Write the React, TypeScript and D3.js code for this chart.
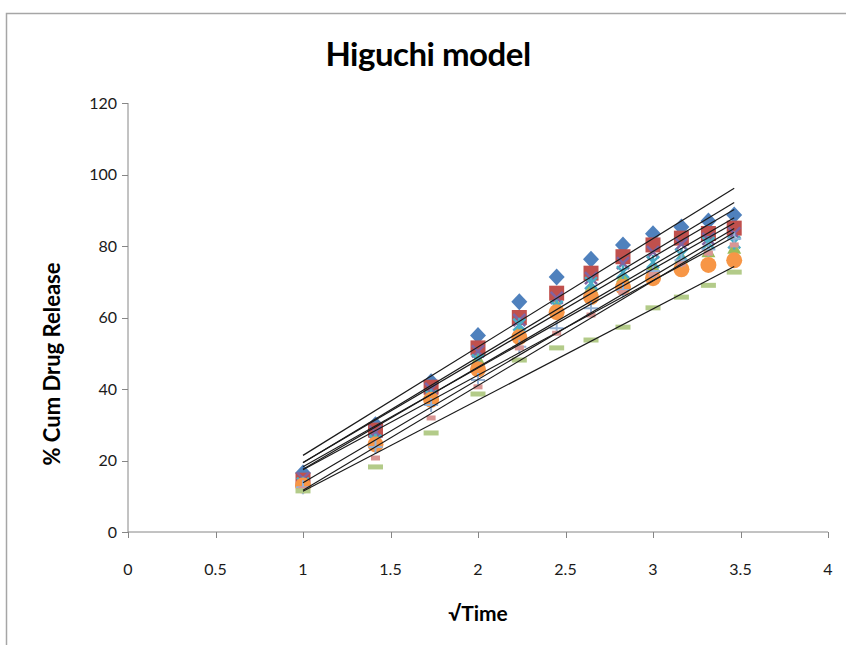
import { useEffect, useRef } from 'react';
import * as d3 from 'd3';

// time points (h); x axis is sqrt(time)
const times = [1, 2, 3, 4, 5, 6, 7, 8, 9, 10, 11, 12];

const f1 = [16.5, 30, 42, 55, 64.4, 71.3, 76.3, 80.3, 83.4, 85.3, 87, 88.7];
const f2 = [14.5, 28.5, 40.5, 51.5, 60, 66.8, 72.4, 77, 80.3, 82.2, 83.5, 85];
const f3 = [13.5, 26, 38.5, 48.5, 56.5, 63.5, 68.5, 71.5, 74.5, 77, 78.5, 79.5];
const f4 = [15, 28, 40, 50.5, 59.3, 65.5, 71, 75.2, 78.3, 80.5, 82, 83.5];
const f5 = [13.5, 25.5, 38, 48, 58, 63, 69.6, 72.7, 75.5, 77.5, 80.8, 81];
const f6 = [13, 24.5, 37, 45.5, 54.5, 61.5, 65.7, 68.5, 71, 73.5, 74.7, 76];
const f7 = [12.5, 23.8, 35.5, 42.5, 51.8, 57, 62.6, 67.7, 73, 76, 79, 82];
const f8 = [12, 20.7, 31.9, 40.6, 51.5, 55.6, 60.7, 67, 72, 75, 78, 80.3];
const f9 = [11.5, 18.2, 27.7, 38.6, 48.1, 51.5, 53.7, 57.3, 62.7, 65.7, 69, 72.7];

const seriesList = [
    { values: f1, marker: 'diamond', color: '#4F81BD' },
    { values: f2, marker: 'square', color: '#C0504D' },
    { values: f3, marker: 'triangle', color: '#9BBB59' },
    { values: f4, marker: 'x', color: '#8064A2' },
    { values: f5, marker: 'star', color: '#4BACC6' },
    { values: f6, marker: 'circle', color: '#F79646' },
    { values: f7, marker: 'plus', color: '#95B3D7' },
    { values: f8, marker: 'short', color: '#D99694' },
    { values: f9, marker: 'long', color: '#B3CB89' },
];

const xTicks = [0, 0.5, 1, 1.5, 2, 2.5, 3, 3.5, 4];
const yTicks = [0, 20, 40, 60, 80, 100, 120];

const font = 'Lato, "Open Sans", sans-serif';

function App() {
    const svgRef = useRef(null);

    useEffect(() => {
        const svg = d3.select(svgRef.current);
        svg.selectAll('*').remove();

        const x = d3.scaleLinear().domain([0, 4]).range([128, 828]);
        const y = d3.scaleLinear().domain([0, 120]).range([532, 103]);
        const xs = times.map(t => Math.sqrt(t));

        // chart frame
        svg.append('rect')
            .attr('x', 6.5).attr('y', 13.5)
            .attr('width', 860).attr('height', 660)
            .attr('fill', '#fff')
            .attr('stroke', '#a6a6a6')
            .attr('stroke-width', 1.5);

        // title
        svg.append('text')
            .attr('x', 428).attr('y', 66)
            .attr('text-anchor', 'middle')
            .attr('font-family', font)
            .attr('font-weight', 'bold')
            .attr('font-size', 33)
            .attr('letter-spacing', -0.5)
            .text('Higuchi model');

        // axes
        const axisColor = '#868686';
        svg.append('line')
            .attr('x1', x(0)).attr('x2', x(0))
            .attr('y1', y(120)).attr('y2', y(0))
            .attr('stroke', axisColor);
        svg.append('line')
            .attr('x1', x(0)).attr('x2', x(4))
            .attr('y1', y(0)).attr('y2', y(0))
            .attr('stroke', axisColor);

        yTicks.forEach(t => {
            svg.append('line')
                .attr('x1', x(0) - 6).attr('x2', x(0))
                .attr('y1', Math.round(y(t)) + 0.5).attr('y2', Math.round(y(t)) + 0.5)
                .attr('stroke', axisColor);
            svg.append('text')
                .attr('x', x(0) - 11).attr('y', y(t) + 5.5)
                .attr('text-anchor', 'end')
                .attr('font-family', font)
                .attr('font-size', 16)
                .attr('fill', '#1a1a1a')
                .text(t);
        });

        xTicks.forEach(t => {
            svg.append('line')
                .attr('x1', Math.round(x(t)) + 0.5).attr('x2', Math.round(x(t)) + 0.5)
                .attr('y1', y(0)).attr('y2', y(0) + 6)
                .attr('stroke', axisColor);
            svg.append('text')
                .attr('x', x(t)).attr('y', 575)
                .attr('text-anchor', 'middle')
                .attr('font-family', font)
                .attr('font-size', 16)
                .attr('fill', '#1a1a1a')
                .text(t);
        });

        // axis titles
        svg.append('text')
            .attr('x', 478).attr('y', 621)
            .attr('text-anchor', 'middle')
            .attr('font-family', font)
            .attr('font-weight', 'bold')
            .attr('font-size', 21)
            .text('\u221ATime');

        svg.append('text')
            .attr('transform', 'translate(60,364) rotate(-90)')
            .attr('text-anchor', 'middle')
            .attr('font-family', font)
            .attr('font-weight', 'bold')
            .attr('font-size', 22)
            .text('% Cum Drug Release');

        // markers
        const g = svg.append('g');
        const drawMarker = (sel, kind, color) => {
            if (kind === 'diamond') {
                sel.append('path').attr('d', 'M0,-8.5L8,0L0,8.5L-8,0Z').attr('fill', color);
            } else if (kind === 'square') {
                sel.append('rect').attr('x', -7.5).attr('y', -7.5).attr('width', 15).attr('height', 15).attr('fill', color);
            } else if (kind === 'triangle') {
                sel.append('path').attr('d', 'M0,-7L7,6L-7,6Z').attr('fill', color);
            } else if (kind === 'x') {
                sel.append('path').attr('d', 'M-6,-6L6,6M6,-6L-6,6').attr('stroke', color).attr('stroke-width', 2.5);
            } else if (kind === 'star') {
                sel.append('path').attr('d', 'M-6,-6L6,6M6,-6L-6,6M0,-7L0,7').attr('stroke', color).attr('stroke-width', 2.5);
            } else if (kind === 'circle') {
                sel.append('circle').attr('r', 8).attr('fill', color);
            } else if (kind === 'plus') {
                sel.append('path').attr('d', 'M-7,0L7,0M0,-7L0,7').attr('stroke', color).attr('stroke-width', 2);
            } else if (kind === 'short') {
                sel.append('rect').attr('x', -4.5).attr('y', -2.5).attr('width', 9).attr('height', 5).attr('fill', color);
            } else if (kind === 'long') {
                sel.append('rect').attr('x', -7.5).attr('y', -2.5).attr('width', 15).attr('height', 5).attr('fill', color);
            }
        };

        seriesList.forEach(s => {
            s.values.forEach((v, i) => {
                const m = g.append('g').attr('transform', `translate(${x(xs[i])},${y(v)})`);
                drawMarker(m, s.marker, s.color);
            });
        });

        // linear trendlines (least squares)
        const tl = svg.append('g');
        seriesList.forEach(s => {
            const mx = d3.mean(xs);
            const my = d3.mean(s.values);
            let sxy = 0, sxx = 0;
            xs.forEach((xv, i) => {
                sxy += (xv - mx) * (s.values[i] - my);
                sxx += (xv - mx) * (xv - mx);
            });
            const b = sxy / sxx;
            const a = my - b * mx;
            const x0 = d3.min(xs), x1 = d3.max(xs);
            tl.append('line')
                .attr('x1', x(x0)).attr('y1', y(a + b * x0))
                .attr('x2', x(x1)).attr('y2', y(a + b * x1))
                .attr('stroke', '#1a1a1a')
                .attr('stroke-width', 1.2);
        });
    }, []);

    return (
        <svg
            ref={svgRef}
            width="846"
            height="645"
            style={{ position: 'absolute', left: 0, top: 0, background: '#fff' }}
        />
    );
}

export default App;
